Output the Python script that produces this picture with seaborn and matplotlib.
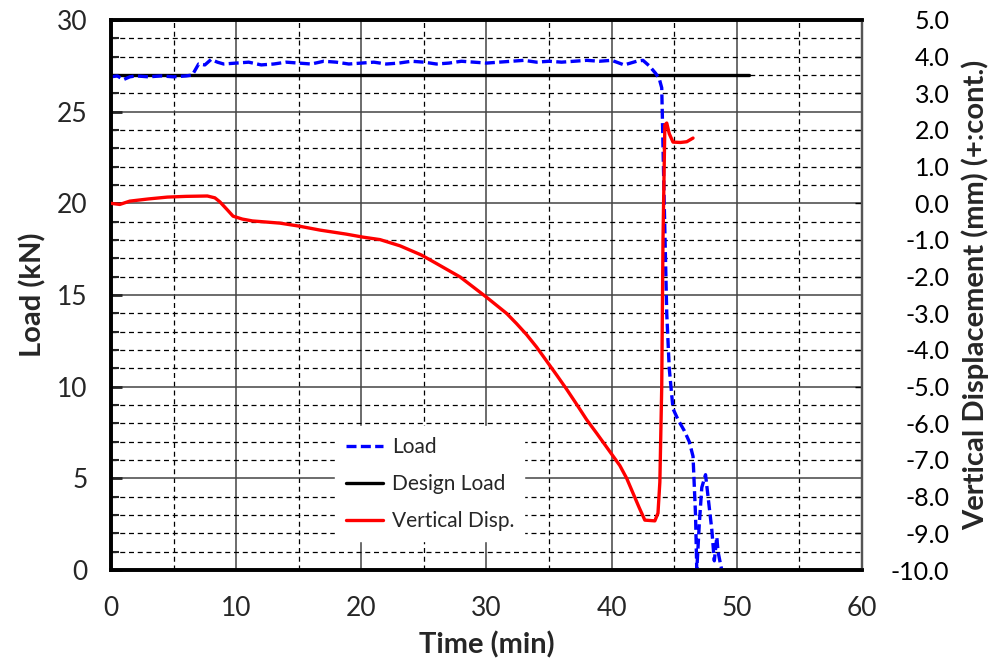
import numpy as np
import pandas as pd
import matplotlib
matplotlib.use("Agg")
import matplotlib.pyplot as plt
from matplotlib.ticker import MultipleLocator, FormatStrFormatter
import seaborn as sns

# ---- data ----
load_time = [0, 0.5, 1, 1.5, 2, 3, 4, 5, 6, 6.5, 7, 7.5, 8, 8.5, 9, 10, 11, 12, 13, 14,
             15, 16, 17, 18, 19, 20, 21, 22, 23, 24, 25, 26, 27, 28, 29, 30, 31, 32, 33,
             34, 35, 36, 37, 38, 39, 40, 41, 42, 42.5, 43, 43.5, 43.8, 44.0, 44.2, 44.4,
             44.6, 44.9, 45.3, 45.8, 46.2, 46.5, 46.7, 46.8, 47.0, 47.2, 47.5, 47.7, 48.0,
             48.2, 48.4, 48.5, 48.7, 48.8]
load_kN = [26.9, 26.95, 26.75, 26.9, 26.95, 26.9, 26.95, 26.9, 26.95, 27.0, 27.6, 27.55,
           27.85, 27.7, 27.6, 27.65, 27.7, 27.55, 27.6, 27.7, 27.65, 27.6, 27.75, 27.7, 27.6,
           27.65, 27.7, 27.6, 27.65, 27.75, 27.7, 27.6, 27.65, 27.75, 27.7, 27.65, 27.7,
           27.75, 27.8, 27.7, 27.75, 27.7, 27.75, 27.8, 27.75, 27.8, 27.55, 27.75, 27.8,
           27.5, 27.1, 26.8, 26.3, 20.0, 14.0, 11.0, 8.8, 8.2, 7.6, 7.0, 6.2, 3.0, 0.0,
           2.5, 4.5, 5.2, 4.0, 2.2, 0.5, 1.8, 1.0, 0.3, 0.0]

design_time = [0, 51]
design_kN = [27, 27]

disp_time = [0, 0.7, 1.5, 3, 4.5, 6, 7.7, 8.3, 8.7, 9.3, 9.75, 10.5, 11.3, 13.5, 15.0,
             16.7, 18.8, 20.1, 21.5, 23.1, 24.8, 26.1, 27.9, 30.0, 31.6, 32.4, 33.2,
             34.0, 34.8, 35.6, 36.4, 37.2, 38.0, 38.8, 39.6, 40.65, 41.2, 41.7, 42.2,
             42.65, 43.45, 43.7, 43.85, 44.0, 44.1, 44.25, 44.4, 44.6, 44.9, 45.5, 46.0,
             46.5]
disp_mm = [0.0, -0.03, 0.06, 0.12, 0.17, 0.19, 0.2, 0.15, 0.04, -0.18, -0.35, -0.43,
           -0.48, -0.54, -0.62, -0.73, -0.84, -0.92, -0.99, -1.16, -1.41, -1.66, -2.01,
           -2.56, -3.0, -3.28, -3.58, -3.92, -4.3, -4.68, -5.07, -5.48, -5.9, -6.27,
           -6.65, -7.15, -7.5, -7.9, -8.3, -8.64, -8.66, -8.45, -7.6, -5.0, -1.0, 2.14,
           2.19, 1.9, 1.67, 1.66, 1.68, 1.78]

x_ticks = [0, 10, 20, 30, 40, 50, 60]
left_ticks = [0, 5, 10, 15, 20, 25, 30]
right_ticks = [-10, -9, -8, -7, -6, -5, -4, -3, -2, -1, 0, 1, 2, 3, 4, 5]

# ---- style ----
sns.set_style("white")
plt.rcParams['font.family'] = ['Lato', 'DejaVu Sans']

fig = plt.figure(figsize=(9.93, 6.65), dpi=100)
ax = fig.add_axes([111/993, 1-570/665, 751/993, 550/665])
ax2 = ax.twinx()

df_load = pd.DataFrame({"t": load_time, "v": load_kN})
df_des = pd.DataFrame({"t": design_time, "v": design_kN})
df_disp = pd.DataFrame({"t": disp_time, "v": disp_mm})

sns.lineplot(data=df_load, x="t", y="v", ax=ax, color="#0000FF", lw=2.4,
             estimator=None, sort=False, label="Load", legend=False, zorder=4)
ax.lines[-1].set_dashes([3, 1.3])
sns.lineplot(data=df_des, x="t", y="v", ax=ax, color="black", lw=2.4,
             estimator=None, sort=False, label="Design Load", legend=False, zorder=3)
sns.lineplot(data=df_disp, x="t", y="v", ax=ax2, color="#FF0000", lw=2.4,
             estimator=None, sort=False, label="Vertical Disp.", legend=False, zorder=4)

ax.set_xlim(0, 60)
ax.set_ylim(0, 30)
ax2.set_ylim(-10, 5)

ax.set_xticks(x_ticks)
ax.xaxis.set_minor_locator(MultipleLocator(5))
ax.set_yticks(left_ticks)
ax.yaxis.set_minor_locator(MultipleLocator(1))
ax2.set_yticks(right_ticks)
ax2.yaxis.set_major_formatter(FormatStrFormatter('%.1f'))

ax.grid(which='major', axis='both', color='#444444', lw=1.1, ls='-', zorder=0)
ax.grid(which='minor', axis='both', color='black', lw=0.9, ls=(0, (4, 3)), zorder=0)
ax.set_axisbelow(True)

ax.tick_params(axis='x', which='major', direction='in', length=7, width=1.5,
               labelsize=19, pad=19, top=False)
ax.tick_params(axis='x', which='minor', direction='in', length=7, width=1.5, top=False)
ax.tick_params(axis='y', which='major', direction='in', length=8, width=2,
               labelsize=19, pad=17)
ax.tick_params(axis='y', which='minor', direction='in', length=6, width=1.5)
ax2.tick_params(axis='y', which='major', direction='in', length=5, width=1,
                labelsize=18, pad=63, colors='black')
for lab in ax2.get_yticklabels():
    lab.set_horizontalalignment('right')

for a in (ax, ax2):
    for s in ('left', 'top', 'bottom'):
        a.spines[s].set_color('black')
        a.spines[s].set_linewidth(2.6)
    a.spines['right'].set_color('#555555')
    a.spines['right'].set_linewidth(1.6)

ax.set_xlabel("Time (min)", fontsize=21, fontweight='bold')
ax.xaxis.set_label_coords(0.5, -0.112)
ax.set_ylabel("Load (kN)", fontsize=21, fontweight='bold')
ax.yaxis.set_label_coords(-0.086, 0.5)
ax2.set_ylabel("Vertical Displacement (mm) (+:cont.)", fontsize=21, fontweight='bold')
ax2.yaxis.set_label_coords(1.132, 0.5)

h1, l1 = ax.get_legend_handles_labels()
h2, l2 = ax2.get_legend_handles_labels()
leg = ax2.legend(h1 + h2, l1 + l2, loc='upper left', bbox_to_anchor=(0.285, 0.28),
                 fontsize=15, frameon=True, fancybox=False, framealpha=1,
                 edgecolor='white', facecolor='white', handlelength=1.8,
                 labelspacing=0.82, borderpad=0.5, handletextpad=0.4)
leg.set_zorder(10)

fig.savefig("out.png", dpi=100)
